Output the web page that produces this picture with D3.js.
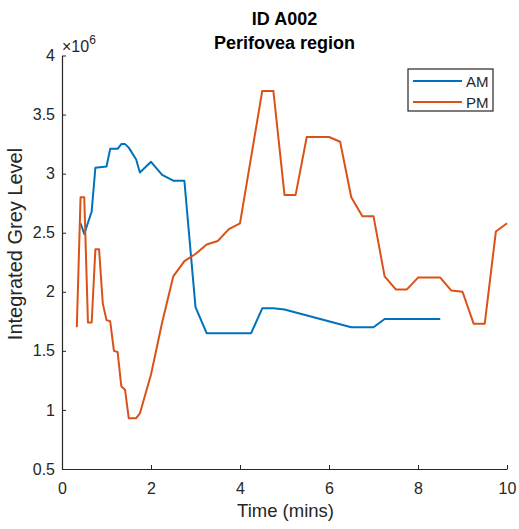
<!DOCTYPE html>
<html>
<head>
<meta charset="utf-8">
<script src="https://cdn.jsdelivr.net/npm/d3@7"></script>
<style>
  body { margin: 0; background: #fff; }
  svg text { font-family: "Liberation Sans", Arial, Helvetica, sans-serif; fill: #262626; }
  .axis path, .axis line { stroke: #262626; }
  .axis text { font-size: 16px; }
</style>
</head>
<body>
<div id="chart"></div>
<script>
// time in minutes, integrated grey level in units of 1e6
const amTime = [0.417, 0.5, 0.667, 0.75, 1.0, 1.083, 1.25, 1.333, 1.417, 1.5, 1.667, 1.75, 2.0, 2.25, 2.5, 2.75, 3.0, 3.25, 4.25, 4.5, 4.75, 5.0, 6.5, 7.0, 7.25, 8.5];
const amValue = [2.58, 2.49, 2.68, 3.05, 3.06, 3.21, 3.21, 3.25, 3.25, 3.22, 3.12, 3.01, 3.10, 2.99, 2.94, 2.94, 1.87, 1.65, 1.65, 1.86, 1.86, 1.85, 1.70, 1.70, 1.77, 1.77];

const pmTime = [0.333, 0.417, 0.5, 0.583, 0.667, 0.75, 0.833, 0.917, 1.0, 1.083, 1.167, 1.25, 1.333, 1.417, 1.5, 1.667, 1.75, 2.0, 2.25, 2.5, 2.75, 3.0, 3.25, 3.5, 3.75, 4.0, 4.25, 4.5, 4.75, 5.0, 5.25, 5.5, 5.75, 6.0, 6.25, 6.5, 6.75, 7.0, 7.25, 7.5, 7.75, 8.0, 8.25, 8.5, 8.75, 9.0, 9.25, 9.5, 9.75, 10.0];
const pmValue = [1.70, 2.80, 2.80, 1.74, 1.74, 2.36, 2.36, 1.90, 1.76, 1.75, 1.50, 1.49, 1.20, 1.17, 0.93, 0.93, 0.97, 1.30, 1.74, 2.13, 2.26, 2.32, 2.40, 2.43, 2.53, 2.58, 3.14, 3.70, 3.70, 2.82, 2.82, 3.31, 3.31, 3.31, 3.27, 2.80, 2.64, 2.64, 2.13, 2.02, 2.02, 2.12, 2.12, 2.12, 2.01, 2.00, 1.73, 1.73, 2.51, 2.58];

const xTicks = [0, 2, 4, 6, 8, 10];
const yTicks = [0.5, 1, 1.5, 2, 2.5, 3, 3.5, 4];

const series = [
  { name: "AM", color: "#0072BD", points: amTime.map((t, i) => [t, amValue[i]]) },
  { name: "PM", color: "#D95319", points: pmTime.map((t, i) => [t, pmValue[i]]) }
];

const width = 519, height = 529;
const margin = { top: 55.5, right: 12, bottom: 60, left: 62 };

const x = d3.scaleLinear().domain([0, 10]).range([margin.left, width - margin.right]);
const y = d3.scaleLinear().domain([0.5, 4]).range([height - margin.bottom, margin.top]);

const svg = d3.select("#chart").append("svg").attr("width", width).attr("height", height);

const line = d3.line().x(d => x(d[0])).y(d => y(d[1]));

svg.selectAll("path.series")
  .data(series)
  .enter().append("path")
  .attr("class", "series")
  .attr("fill", "none")
  .attr("stroke", d => d.color)
  .attr("stroke-width", 2)
  .attr("stroke-linejoin", "round")
  .attr("d", d => line(d.points));

// axes, ticks pointing inward like MATLAB
svg.append("g")
  .attr("class", "axis")
  .attr("transform", `translate(0,${height - margin.bottom})`)
  .call(d3.axisBottom(x).tickValues(xTicks).tickSizeInner(-4).tickSizeOuter(0).tickPadding(14))
  .call(g => g.select(".domain").attr("stroke-width", 1.2));

svg.append("g")
  .attr("class", "axis")
  .attr("transform", `translate(${margin.left},0)`)
  .call(d3.axisLeft(y).tickValues(yTicks).tickFormat(d3.format("")).tickSizeInner(-4).tickSizeOuter(0).tickPadding(7))
  .call(g => g.select(".domain").attr("stroke-width", 1.2));

// exponent label
const expo = svg.append("text")
  .attr("x", margin.left)
  .attr("y", 52)
  .attr("font-size", 16);
expo.append("tspan").text("\u00d710");
expo.append("tspan").attr("dy", -8).attr("font-size", 12).text("6");

// titles
const cx = (margin.left + width - margin.right) / 2;
svg.append("text")
  .attr("x", cx)
  .attr("y", 25)
  .attr("text-anchor", "middle")
  .attr("font-size", 18)
  .attr("font-weight", "bold")
  .style("fill", "#000")
  .text("ID A002");

svg.append("text")
  .attr("x", cx)
  .attr("y", 49)
  .attr("text-anchor", "middle")
  .attr("font-size", 18)
  .attr("font-weight", "bold")
  .style("fill", "#000")
  .text("Perifovea region");

// axis labels
svg.append("text")
  .attr("x", cx + 1)
  .attr("y", 517)
  .attr("text-anchor", "middle")
  .attr("font-size", 18.5)
  .text("Time (mins)");

svg.append("text")
  .attr("transform", "translate(22,244) rotate(-90)")
  .attr("text-anchor", "middle")
  .attr("font-size", 20)
  .text("Integrated Grey Level");

// legend
const legend = svg.append("g").attr("transform", "translate(408,69)");
legend.append("rect")
  .attr("width", 85).attr("height", 42)
  .attr("fill", "#fff").attr("stroke", "#262626").attr("stroke-width", 1.2);

const item = legend.selectAll("g.item")
  .data(series)
  .enter().append("g")
  .attr("class", "item")
  .attr("transform", (d, i) => `translate(0,${12 + i * 21})`);
item.append("line")
  .attr("x1", 5).attr("x2", 54)
  .attr("stroke", d => d.color).attr("stroke-width", 2);
item.append("text")
  .attr("x", 58).attr("y", 6)
  .attr("font-size", 15)
  .text(d => d.name);
</script>
</body>
</html>
